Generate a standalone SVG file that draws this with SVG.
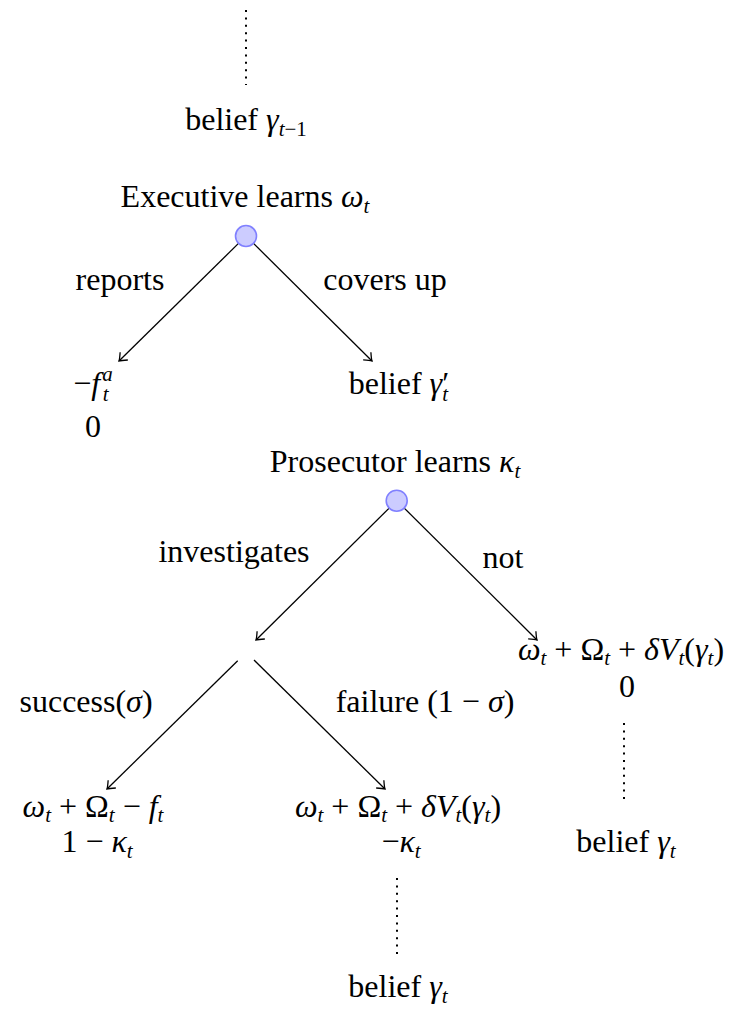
<svg xmlns="http://www.w3.org/2000/svg" width="740" height="1013" viewBox="0 0 740 1013">
<style>
text{font-family:"Liberation Serif","Times New Roman",serif;font-size:32px;fill:#000;text-anchor:middle}
.i{font-style:italic}
.s{font-size:21px}
.edge{stroke:#000;stroke-width:1.3;fill:none}
.dot{stroke:#000;stroke-width:2;stroke-dasharray:2 5.4;fill:none}
.chance{fill:#ccccff;stroke:#8080ff;stroke-width:1.6}
</style>
<defs>
<marker id="arr" markerWidth="1" markerHeight="1" refX="0" refY="0" orient="auto" markerUnits="userSpaceOnUse" overflow="visible">
<path d="M-7,-5.5 Q-2,-1 0,0 Q-2,1 -7,5.5" fill="none" stroke="#000" stroke-width="1.3"/>
</marker>
</defs>
<rect width="740" height="1013" fill="#fff"/>

<g id="connectors">
<line class="dot" x1="246" y1="10" x2="246" y2="85"/>
<line class="edge" x1="238.5" y1="243.4" x2="119" y2="361" marker-end="url(#arr)"/>
<line class="edge" x1="253.5" y1="243.4" x2="372" y2="361" marker-end="url(#arr)"/>
<line class="edge" x1="389.2" y1="508.1" x2="256" y2="640" marker-end="url(#arr)"/>
<line class="edge" x1="404.2" y1="508.1" x2="537" y2="640" marker-end="url(#arr)"/>
<line class="edge" x1="237.7" y1="660.7" x2="107" y2="789" marker-end="url(#arr)"/>
<line class="edge" x1="254" y1="660" x2="385" y2="789" marker-end="url(#arr)"/>
<line class="dot" x1="624" y1="723" x2="624" y2="800"/>
<line class="dot" x1="397" y1="878" x2="397" y2="955"/>
</g>

<g id="labels">
<text x="120" y="290">reports</text>
<text x="385" y="290">covers up</text>
<text x="234" y="562">investigates</text>
<text x="503" y="568">not</text>
<text x="86" y="712">success(<tspan class="i">σ</tspan>)</text>
<text x="425" y="712">failure (1 − <tspan class="i">σ</tspan>)</text>
</g>

<g id="node-prev-belief">
<text x="246" y="130">belief <tspan class="i">γ</tspan><tspan class="s" dy="6"><tspan class="i">t</tspan>−1</tspan></text>
</g>

<g id="node-executive">
<text x="245" y="207">Executive learns <tspan class="i">ω</tspan><tspan class="s i" dy="6">t</tspan></text>
<circle class="chance" cx="246" cy="236" r="10.5"/>
</g>

<g id="node-reports">
<text x="93" y="394">−<tspan class="i">f</tspan><tspan class="s i" dy="-13" dx="2">a</tspan><tspan class="s i" dx="-10" dy="20">t</tspan></text>
<text x="93" y="437">0</text>
</g>

<g id="node-coverup">
<text x="399" y="394">belief <tspan class="i">γ</tspan>′<tspan class="s i" dx="-7" dy="7">t</tspan></text>
</g>

<g id="node-prosecutor">
<text x="395" y="472">Prosecutor learns <tspan class="i">κ</tspan><tspan class="s i" dy="6">t</tspan></text>
<circle class="chance" cx="396.7" cy="500.7" r="10.5"/>
</g>

<g id="node-investigate">
<circle cx="246" cy="652" r="1" fill="none"/>
</g>

<g id="node-not">
<text x="621" y="660"><tspan class="i">ω</tspan><tspan class="s i" dy="5">t</tspan><tspan dy="-5"> + Ω</tspan><tspan class="s i" dy="5">t</tspan><tspan dy="-5"> + </tspan><tspan class="i">δV</tspan><tspan class="s i" dy="5">t</tspan><tspan dy="-5">(</tspan><tspan class="i">γ</tspan><tspan class="s i" dy="5">t</tspan><tspan dy="-5">)</tspan></text>
<text x="627" y="697">0</text>
<text x="626" y="852">belief <tspan class="i">γ</tspan><tspan class="s i" dy="6">t</tspan></text>
</g>

<g id="node-success">
<text x="93" y="817"><tspan class="i">ω</tspan><tspan class="s i" dy="5">t</tspan><tspan dy="-5"> + Ω</tspan><tspan class="s i" dy="5">t</tspan><tspan dy="-5"> − </tspan><tspan class="i">f</tspan><tspan class="s i" dy="5">t</tspan></text>
<text x="97" y="852">1 − <tspan class="i">κ</tspan><tspan class="s i" dy="6">t</tspan></text>
</g>

<g id="node-failure">
<text x="398" y="817"><tspan class="i">ω</tspan><tspan class="s i" dy="5">t</tspan><tspan dy="-5"> + Ω</tspan><tspan class="s i" dy="5">t</tspan><tspan dy="-5"> + </tspan><tspan class="i">δV</tspan><tspan class="s i" dy="5">t</tspan><tspan dy="-5">(</tspan><tspan class="i">γ</tspan><tspan class="s i" dy="5">t</tspan><tspan dy="-5">)</tspan></text>
<text x="401" y="852">−<tspan class="i">κ</tspan><tspan class="s i" dy="6">t</tspan></text>
<text x="398" y="997">belief <tspan class="i">γ</tspan><tspan class="s i" dy="6">t</tspan></text>
</g>
</svg>
